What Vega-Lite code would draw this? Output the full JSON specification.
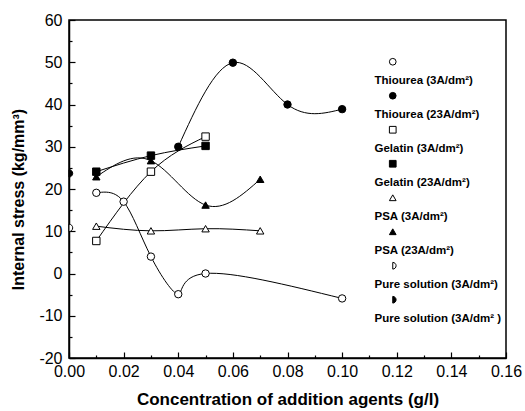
{
  "$schema": "https://vega.github.io/schema/vega-lite/v6.json",
  "autosize": {"type": "none"},
  "width": 437,
  "height": 338,
  "padding": {"left": 69, "top": 20, "right": 19, "bottom": 53},
  "background": "white",
  "config": {
    "font": "Liberation Sans",
    "view": {"stroke": "black", "strokeWidth": 1.5},
    "axis": {"grid": false, "domainColor": "black", "domainWidth": 1.5, "tickColor": "black", "labelColor": "black", "titleColor": "black", "labelFont": "Liberation Sans"}
  },
  "data": {"values": [
    {"s": "Thiourea (3A/dm²)", "x": 0.01, "y": 19.1},
    {"s": "Thiourea (3A/dm²)", "x": 0.02, "y": 17},
    {"s": "Thiourea (3A/dm²)", "x": 0.03, "y": 4},
    {"s": "Thiourea (3A/dm²)", "x": 0.04, "y": -4.9},
    {"s": "Thiourea (3A/dm²)", "x": 0.05, "y": 0},
    {"s": "Thiourea (3A/dm²)", "x": 0.10, "y": -5.9},
    {"s": "Thiourea (23A/dm²)", "x": 0.04, "y": 30},
    {"s": "Thiourea (23A/dm²)", "x": 0.06, "y": 49.9},
    {"s": "Thiourea (23A/dm²)", "x": 0.08, "y": 40},
    {"s": "Thiourea (23A/dm²)", "x": 0.10, "y": 38.9},
    {"s": "Gelatin (3A/dm²)", "x": 0.01, "y": 7.7},
    {"s": "Gelatin (3A/dm²)", "x": 0.03, "y": 24.1},
    {"s": "Gelatin (3A/dm²)", "x": 0.05, "y": 32.4},
    {"s": "Gelatin (23A/dm²)", "x": 0.01, "y": 24.1},
    {"s": "Gelatin (23A/dm²)", "x": 0.03, "y": 27.9},
    {"s": "Gelatin (23A/dm²)", "x": 0.05, "y": 30.2},
    {"s": "PSA (3A/dm²)", "x": 0.01, "y": 11.2},
    {"s": "PSA (3A/dm²)", "x": 0.03, "y": 10.1},
    {"s": "PSA (3A/dm²)", "x": 0.05, "y": 10.6},
    {"s": "PSA (3A/dm²)", "x": 0.07, "y": 10.1},
    {"s": "PSA (23A/dm²)", "x": 0.01, "y": 22.9},
    {"s": "PSA (23A/dm²)", "x": 0.03, "y": 26.7},
    {"s": "PSA (23A/dm²)", "x": 0.05, "y": 16.2},
    {"s": "PSA (23A/dm²)", "x": 0.07, "y": 22.3},
    {"s": "Pure solution (3A/dm²)", "x": 0, "y": 10.8},
    {"s": "Pure solution (3A/dm² )", "x": 0, "y": 23.7}
  ]},
  "encoding": {
    "x": {"field": "x", "type": "quantitative", "scale": {"domain": [0, 0.16], "nice": false},
      "axis": {"title": "Concentration of addition agents (g/l)", "titleFont": "Liberation Sans", "titleFontSize": 17, "titleFontWeight": "bold", "titlePadding": 12,
        "values": [0,0.01,0.02,0.03,0.04,0.05,0.06,0.07,0.08,0.09,0.1,0.11,0.12,0.13,0.14,0.15,0.16],
        "labelExpr": "round(datum.value*100) % 2 === 0 ? format(datum.value, '.2f') : ''",
        "labelFontSize": 16, "labelPadding": 11, "labelFlush": false,
        "tickSize": {"condition": {"test": "round(datum.value*100) % 2 === 1", "value": -3}, "value": -6}, "tickWidth": 1.2}},
    "y": {"field": "y", "type": "quantitative", "scale": {"domain": [-20, 60], "nice": false},
      "axis": {"title": "Internal stress (kg/mm³)", "titleFont": "Liberation Sans Narrow, Liberation Sans", "titleFontSize": 16, "titleFontWeight": "bold",
        "titleX": -51, "titleY": 179, "titleBaseline": "middle", "titleAlign": "center", "titleAngle": 270,
        "values": [-20,-15,-10,-5,0,5,10,15,20,25,30,35,40,45,50,55,60],
        "labelExpr": "datum.value % 10 === 0 ? '' + datum.value : ''",
        "labelFontSize": 16, "labelPadding": 13, "labelFlush": false,
        "tickSize": {"condition": {"test": "datum.value % 10 !== 0", "value": -3}, "value": -6}, "tickWidth": 1.2}}
  },
  "layer": [
    {
      "mark": {"type": "line", "interpolate": "natural", "color": "black", "strokeWidth": 1},
      "encoding": {"detail": {"field": "s"}}
    },
    {
      "mark": {"type": "point", "filled": true, "stroke": "black", "strokeWidth": 1, "size": 55, "opacity": 1},
      "encoding": {
        "shape": {"field": "s", "type": "nominal", "sort": null,
          "scale": {"domain": ["Thiourea (3A/dm²)", "Thiourea (23A/dm²)", "Gelatin (3A/dm²)", "Gelatin (23A/dm²)", "PSA (3A/dm²)", "PSA (23A/dm²)", "Pure solution (3A/dm²)", "Pure solution (3A/dm² )"],
            "range": ["circle", "circle", "square", "square", "triangle-up", "triangle-up", "M0,-1A1,1 0 0 1 0,1Z", "M0,-1A1,1 0 0 1 0,1Z"]},
          "legend": {"title": null, "orient": "none", "legendX": 306, "legendY": 36, "labelFontSize": 11.5, "labelFontWeight": "bold", "labelColor": "black", "symbolSize": 45, "symbolStrokeWidth": 1, "symbolOffset": 12, "labelOffset": -24, "rowPadding": 3,
            "labelBaseline": "top", "labelExpr": "['', datum.label]"}},
        "fill": {"field": "s", "type": "nominal",
          "scale": {"domain": ["Thiourea (3A/dm²)", "Thiourea (23A/dm²)", "Gelatin (3A/dm²)", "Gelatin (23A/dm²)", "PSA (3A/dm²)", "PSA (23A/dm²)", "Pure solution (3A/dm²)", "Pure solution (3A/dm² )"],
            "range": ["white", "black", "white", "black", "white", "black", "white", "black"]},
          "legend": {"title": null, "orient": "none", "legendX": 306, "legendY": 36, "labelFontSize": 11.5, "labelFontWeight": "bold", "labelColor": "black", "symbolSize": 45, "symbolStrokeWidth": 1, "symbolOffset": 12, "labelOffset": -24, "rowPadding": 3,
            "labelBaseline": "top", "labelExpr": "['', datum.label]"}}
      }
    }
  ]
}
